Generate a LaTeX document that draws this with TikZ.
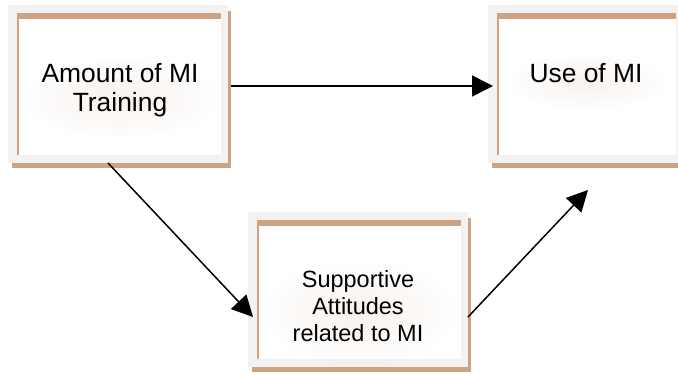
\documentclass[tikz,border=0pt]{standalone}
\usepackage{fontspec}
\setmainfont{Liberation Sans}
\usetikzlibrary{arrows.meta,fadings}
\definecolor{framegray}{HTML}{F2F2F2}
\definecolor{frametan}{RGB}{207,163,130}
\tikzfading[name=softglow, inner color=transparent!0, outer color=transparent!100]
\newcommand{\myframedbox}[4]{% x0 y0 x1 y1 (gray outer frame)
  \fill[framegray] (#1,#2) rectangle (#3,#4);
  \fill[frametan] (#1+9,#2+8) rectangle (#3-7,#2+14);
  \fill[frametan] (#1+9,#2+8) rectangle (#1+11,#4-8);
  \fill[white] (#1+11,#2+14) rectangle (#3-7,#4-8);
  \fill[frametan] (#3,#2+6) rectangle (#3+3,#4+4);
  \fill[frametan] (#1+4,#4) rectangle (#3+3,#4+5);
}
\tikzset{
  boxtext/.style={align=center, text=black, inner sep=0pt},
  bigfont/.style={font=\fontsize{26.4}{29}\selectfont},
  smallfont/.style={font=\fontsize{23.5}{27.2}\selectfont},
  glow/.style={fill=frametan, opacity=0.14, path fading=softglow},
  conn/.style={line width=1.5pt, -{Triangle[length=21pt,width=21pt]}}
}
\begin{document}
\begin{tikzpicture}[x=1pt,y=-1pt]
\useasboundingbox (0,0) rectangle (678,375);
\begin{scope}
\clip (0,0) rectangle (678,375);
\myframedbox{8}{5}{228}{163}
\myframedbox{488}{5}{683}{163}
\myframedbox{248}{212}{468}{367}
\fill[glow] (120,98) ellipse (100 and 40);
\fill[glow] (586,82) ellipse (80 and 28);
\fill[glow] (359,312) ellipse (100 and 52);
\end{scope}
\node[boxtext,bigfont] (amount) at (120,90.5) {Amount of MI\\Training};
\node[boxtext,bigfont] (use) at (586,73.4) {Use of MI};
\node[boxtext,smallfont] (supp) at (358,305.9) {Supportive\\Attitudes\\related to MI};
\coordinate (amountE) at (231,86);
\coordinate (useW) at (493,86);
\coordinate (amountS) at (108,163);
\coordinate (suppW) at (253,317);
\coordinate (suppE) at (468,317);
\coordinate (useS) at (588,190);
\draw[conn] (amountE) -- (useW);
\draw[conn] (amountS) -- (suppW);
\draw[conn] (suppE) -- (useS);
\end{tikzpicture}
\end{document}
